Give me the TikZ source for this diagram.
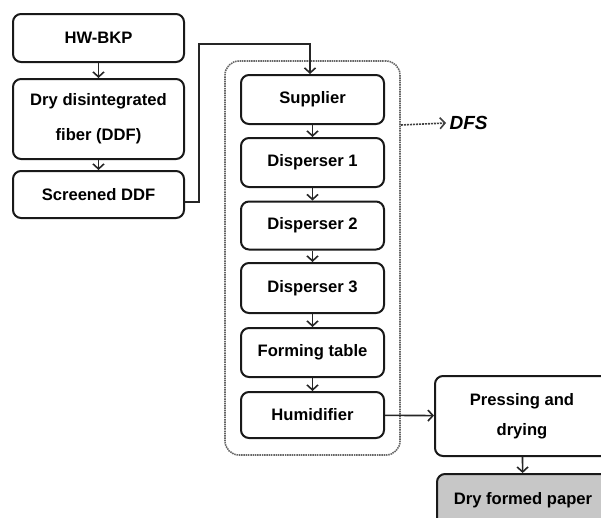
\documentclass[tikz,border=0pt]{standalone}
\usepackage{fontspec}
\setmainfont{Liberation Sans}
\usetikzlibrary{arrows.meta}
\begin{document}
\begin{tikzpicture}[x=1pt,y=-1pt,
  box/.style={draw=black!90, line width=2pt, rounded corners=8pt, fill=white,
    font=\fontsize{16.6}{30}\selectfont\bfseries, align=center, inner sep=0pt},
  flow/.style={draw=black!85, line width=1.6pt, -{Straight Barb[length=5pt,width=11pt,line width=1.6pt]}},
  grp/.style={draw=black!60, line width=1.6pt, dash pattern=on 1.5pt off 0.8pt, rounded corners=14pt}
]
\useasboundingbox (0,0) rectangle (601,517);
\clip (0,0) rectangle (601,517);
% left column
\node[box, minimum width=171pt, minimum height=48pt] (hw) at (98.5,38) {HW-BKP};
\node[box, minimum width=171pt, minimum height=80pt, font=\fontsize{16.6}{35}\selectfont\bfseries] (ddf) at (98.5,119) {Dry disintegrated\\fiber (DDF)};
\node[box, minimum width=171pt, minimum height=47pt] (sdf) at (98.5,194.5) {Screened DDF};
% container
\node[grp, minimum width=175pt, minimum height=394pt, inner sep=0pt] (cont) at (312.5,258) {};
% center column
\node[box, minimum width=143pt, minimum height=49pt] (sup) at (312.5,99.5) {Supplier};
\node[box, minimum width=143pt, minimum height=49pt] (d1) at (312.5,162.5) {Disperser 1};
\node[box, minimum width=143pt, minimum height=48pt] (d2) at (312.5,225.5) {Disperser 2};
\node[box, minimum width=143pt, minimum height=50pt] (d3) at (312.5,288) {Disperser 3};
\node[box, minimum width=143pt, minimum height=49pt] (ft) at (312.5,352.5) {Forming table};
\node[box, minimum width=143pt, minimum height=46pt] (hum) at (312.5,415) {Humidifier};
% right
\node[box, minimum width=174pt, minimum height=80pt] (pd) at (522,416) {Pressing and\\drying};
\node[box, fill=black!22, minimum width=172pt, minimum height=60pt, anchor=north] (dfp) at (523,473) {};
\node[font=\fontsize{16.6}{18}\selectfont\bfseries] (dfpt) at (523,500) {Dry formed paper};
\node[font=\fontsize{19}{22}\selectfont\bfseries\itshape, anchor=west] (dfs) at (446,123) {DFS};
% connectors
\draw[flow] (hw) -- (ddf);
\draw[flow] (ddf) -- (sdf);
\coordinate (c1) at ([yshift=-7.5pt]sdf.east);
\draw[flow, rounded corners=0pt] (c1) -| (199,44) -| ([xshift=-2.5pt]sup.north);
\draw[flow] (sup) -- (d1);
\draw[flow] (d1) -- (d2);
\draw[flow] (d2) -- (d3);
\draw[flow] (d3) -- (ft);
\draw[flow] (ft) -- (hum);
\draw[flow] (hum) -- (pd);
\draw[flow] (pd) -- (dfp);
\coordinate (c2) at (cont.east |- sup.south);
\draw[flow, draw=black!75, dash pattern=on 2pt off 1pt] (c2) -- (dfs.west);
\end{tikzpicture}
\end{document}
